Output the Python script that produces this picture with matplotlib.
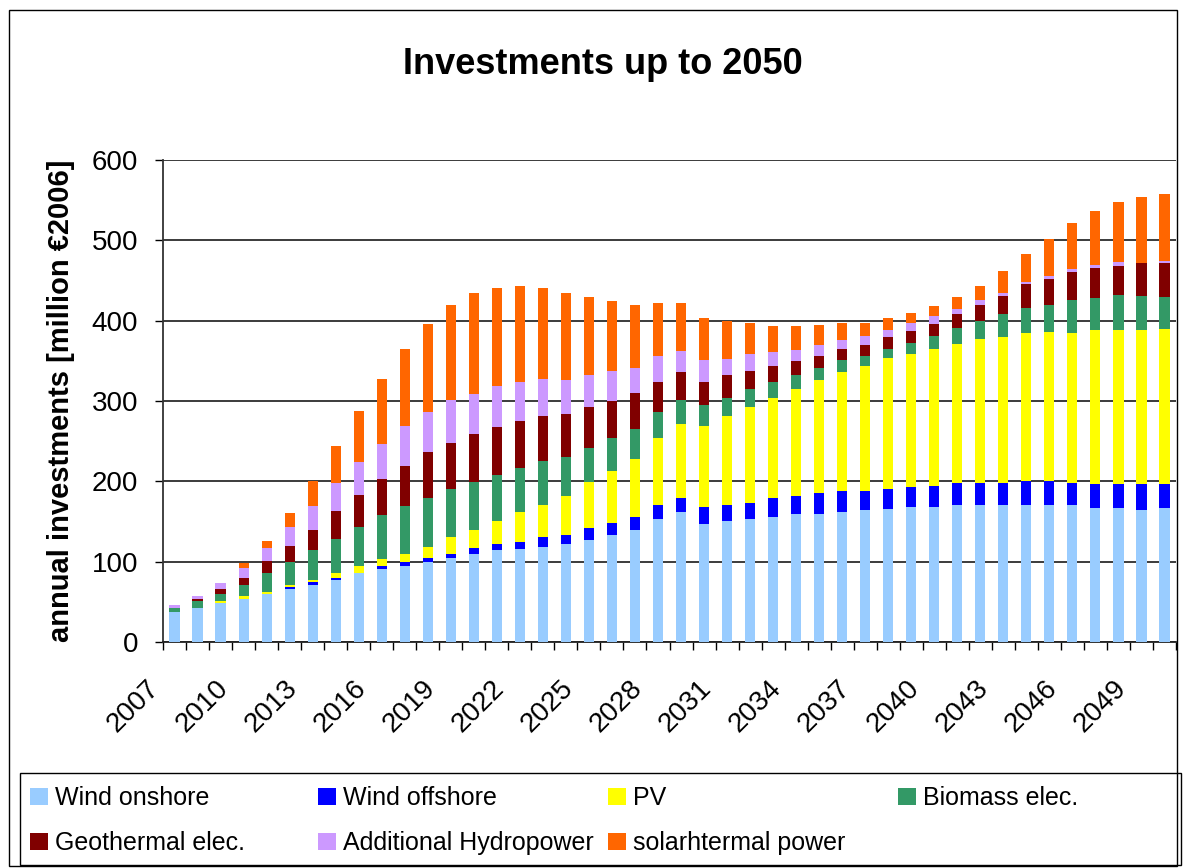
import matplotlib
matplotlib.use("Agg")
import matplotlib.pyplot as plt
import matplotlib.transforms as mtransforms
from matplotlib.patches import Rectangle
import numpy as np

plt.rcParams['font.family'] = ['Liberation Sans', 'DejaVu Sans']

# categories
years = list(range(2007, 2051))

# annual investments per technology [million EUR 2006]
wind_onshore = [37, 42, 48, 53, 60, 66, 70.5, 77, 85.5, 90.5,
                94, 99, 105, 109, 114, 116, 118, 122, 127, 133,
                139.5, 153, 162, 147, 150.5, 153, 155.5, 159, 159, 162,
                164, 166, 168, 168, 171, 171, 171, 171, 171, 171,
                167, 167, 164.5, 167]
wind_offshore = [0, 0, 0, 0, 0, 2.5, 4, 2.5, 1, 3.5,
                 5, 6, 5, 7.5, 8, 8.5, 12.5, 11, 15, 15,
                 16, 17.5, 17.5, 21, 20, 20, 24, 22.5, 26.5, 26.5,
                 24, 25, 25, 26.5, 26.5, 26.5, 26.5, 29, 29, 26.5,
                 30, 30, 32.5, 30]
pv = [0, 0, 2.5, 4, 2.5, 2.5, 2.5, 6, 8, 9,
      11, 13.5, 21, 23, 28.5, 37.5, 40, 49, 57.5, 65,
      72.5, 84, 91.5, 100.5, 110.5, 119.5, 124, 133, 140.5, 147,
      155.5, 162, 165.5, 170.5, 173, 179.5, 182, 184.5, 186, 187,
      191, 191, 191, 193]
biomass = [5, 8.5, 9, 13.5, 23.5, 28.5, 37, 42.5, 48.5, 54.5,
           59, 61, 59.5, 60, 57.5, 55, 55, 48.5, 42.5, 41,
           37.5, 31.5, 30.5, 26.5, 22.5, 22.5, 20, 17.5, 15, 15,
           12.5, 11.5, 14, 16.5, 20, 22.5, 29, 31.5, 34, 41.5,
           40, 44, 42.5, 40]
geothermal = [0, 2.5, 6, 9, 15, 20, 25, 35, 40, 45,
              50.5, 57.5, 57.5, 60, 60, 57.5, 55.5, 53, 50, 46.5,
              44, 37.5, 34, 29, 29, 22.5, 20, 17.5, 15, 14,
              14, 15, 15, 14, 17.5, 20, 22.5, 30, 31.5, 34,
              37.5, 36.5, 41.5, 41.5]
hydro = [3.5, 4, 8.5, 12.5, 16, 23.5, 30, 35, 41, 43.5,
         49, 49, 53, 49, 50.5, 49, 46.5, 42.5, 40, 36.5,
         31.5, 32.5, 26.5, 26.5, 20, 21.5, 17.5, 14, 14, 11,
         11.5, 9, 9, 10, 6, 6, 4, 2.5, 4, 4,
         4, 4, 0, 2.5]
solar_thermal = [0, 0, 0, 6.5, 8.5, 17.5, 32, 46, 63.5, 81,
                 96.5, 110, 119, 125.5, 122, 119.5, 113, 108, 97, 88,
                 79, 66.5, 60.5, 52.5, 46.5, 37.5, 32.5, 30, 24, 21.5,
                 15, 15, 12.5, 12.5, 15, 17.5, 26.5, 35, 46.5, 57.5,
                 66.5, 75.5, 81.5, 84]

names = ['Wind onshore', 'Wind offshore', 'PV', 'Biomass elec.',
         'Geothermal elec.', 'Additional Hydropower', 'solarhtermal power']
series = [wind_onshore, wind_offshore, pv, biomass, geothermal, hydro, solar_thermal]
colors = ['#99CCFF', '#0000FF', '#FFFF00', '#339966', '#800000', '#CC99FF', '#FF6600']

W, H = 1184, 868
fig = plt.figure(figsize=(W / 100, H / 100), dpi=100)
ax = fig.add_axes([163 / W, 1 - 642 / H, 1013 / W, 482 / H])

x = np.arange(len(years))
bottom = np.zeros(len(years))
containers = []
for name, vals, col in zip(names, series, colors):
    c = ax.bar(x, vals, width=0.44, bottom=bottom, color=col, label=name, zorder=3)
    containers.append(c)
    bottom += np.array(vals)

ax.set_xlim(-0.5, len(years) - 0.5)
ax.set_ylim(0, 600)
ax.set_yticks(range(0, 601, 100))
ax.yaxis.grid(True, color='#1a1a1a', lw=1.2)
ax.set_axisbelow(True)
for s in ['top', 'right']:
    ax.spines[s].set_visible(False)
ax.spines['left'].set_color('#333333')
ax.spines['bottom'].set_color('#222222')
ax.spines['left'].set_linewidth(1.3)
ax.spines['bottom'].set_linewidth(1.3)

# year labels every 3 years, tick marks between categories
ax.set_xticks(x[::3])
ax.set_xticklabels([str(y) for y in years[::3]])
ax.set_xticks(np.arange(-0.5, len(years), 1), minor=True)
ax.tick_params(axis='x', which='major', length=0, pad=24, labelsize=20)
ax.tick_params(axis='x', which='minor', length=6, width=1, direction='out')
ax.tick_params(axis='y', length=6, width=1, direction='out', pad=12, labelsize=20)
shift = mtransforms.ScaledTranslation(-0.10, 0, fig.dpi_scale_trans)
for lbl in ax.get_xticklabels():
    lbl.set_rotation(45)
    lbl.set_ha('right')
    lbl.set_va('top')
    lbl.set_transform(lbl.get_transform() + shift)

fig.text(603 / W, 1 - 64 / H, 'Investments up to 2050', ha='center', va='center',
         fontsize=26, fontweight='bold')
fig.text(61 / W, 1 - 401 / H, 'annual investments [million €2006]', ha='center', va='center',
         rotation=90, fontsize=21, fontweight='bold')

# legend: 4 fixed-width columns, 2 rows
columns = [[0, 4], [1, 5], [2, 6], [3]]
col_x = [30, 318, 608, 898]
for idx, cx in zip(columns, col_x):
    fig.legend([containers[i] for i in idx], [names[i] for i in idx],
               loc='upper left', bbox_to_anchor=(cx / W, 1 - 786 / H),
               frameon=False, fontsize=18, handlelength=0.7, handleheight=0.7,
               handletextpad=0.3, labelspacing=0.85, borderpad=0, borderaxespad=0)
fig.add_artist(Rectangle((20 / W, 1 - 865 / H), 1161 / W, 92 / H, transform=fig.transFigure,
                         fill=False, ec='black', lw=1))

# outer chart border
fig.add_artist(Rectangle((9 / W, 1 - 866 / H), 1168 / W, 856 / H, transform=fig.transFigure,
                         fill=False, ec='black', lw=1))

fig.savefig('out.png', dpi=100)
